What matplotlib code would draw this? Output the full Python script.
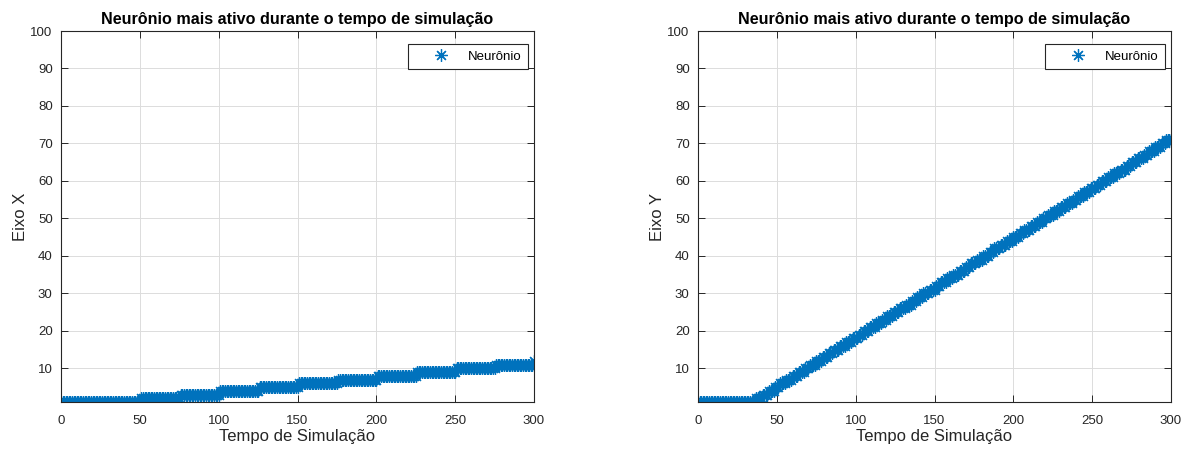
import numpy as np
import matplotlib
matplotlib.use("Agg")
import matplotlib.pyplot as plt

plt.rcParams["font.family"] = ["Liberation Sans", "DejaVu Sans"]

# Simulation time steps
tempo = np.arange(1, 301)

# Most active neuron, X coordinate: level values and how many steps each lasts
nivel_x = [1, 2, 3, 4, 5, 6, 7, 8, 9, 10, 11, 12]
duracao_x = [50, 25, 25, 25, 25, 25, 25, 25, 25, 25, 24, 1]

# Most active neuron, Y coordinate: level values and how many steps each lasts
nivel_y = list(range(1, 72))
duracao_y = [36,
             4, 4, 4, 3, 4, 4, 4, 4, 3,
             4, 4, 4, 3, 4, 4, 4, 4, 3,
             4, 4, 4, 3, 4, 4, 4, 4, 3,
             4, 4, 4, 3, 4, 4, 4, 4, 3,
             4, 4, 4, 3, 4, 4, 4, 4, 3,
             4, 4, 4, 3, 4, 4, 4, 4, 3,
             4, 4, 4, 3, 4, 4, 4, 4, 3,
             4, 4, 3, 4, 4, 3, 4]

eixo_x = np.repeat(nivel_x, duracao_x)
eixo_y = np.repeat(nivel_y, duracao_y)

titulo = "Neurônio mais ativo durante o tempo de simulação"
xlabel = "Tempo de Simulação"
ylabels = ["Eixo X", "Eixo Y"]
xticks = [0, 50, 100, 150, 200, 250, 300]
yticks = [10, 20, 30, 40, 50, 60, 70, 80, 90, 100]

azul = "#0072BD"
cinza = "#262626"

fig = plt.figure(figsize=(11.92, 4.5), dpi=100)
posicoes = [[61 / 1192, 48 / 450, 473 / 1192, 371 / 450],
            [698 / 1192, 48 / 450, 473 / 1192, 371 / 450]]

for pos, serie, ylab in zip(posicoes, [eixo_x, eixo_y], ylabels):
    ax = fig.add_axes(pos)
    ax.plot(tempo, serie, linestyle="none", marker=(8, 2, 0), markersize=9,
            markeredgewidth=0.9, color=azul, label="Neurônio")
    ax.set_xlim(0, 300)
    ax.set_ylim(1, 100)
    ax.set_xticks(xticks)
    ax.set_yticks(yticks)
    ax.grid(True, color="#dcdcdc", linewidth=0.7)
    ax.set_axisbelow(True)
    ax.tick_params(direction="in", length=5, width=0.7, colors=cinza,
                   labelsize=9.5, top=True, right=True)
    ax.tick_params(axis="x", pad=9)
    ax.tick_params(axis="y", pad=6)
    for s in ax.spines.values():
        s.set_color(cinza)
        s.set_linewidth(0.8)
    ax.set_title(titulo, fontsize=11.6, fontweight="bold", color="black", pad=5)
    ax.set_xlabel(xlabel, fontsize=12, color=cinza, labelpad=2)
    ax.set_ylabel(ylab, fontsize=12, color=cinza, labelpad=2)
    leg = ax.legend(loc="upper right", fontsize=9.5, fancybox=False,
                    framealpha=1, edgecolor=cinza, borderpad=0.5,
                    borderaxespad=0, handlelength=3.9, handletextpad=0.1,
                    bbox_to_anchor=(0.987, 0.965))
    leg.get_frame().set_linewidth(0.8)

fig.savefig("out.png", dpi=100)
